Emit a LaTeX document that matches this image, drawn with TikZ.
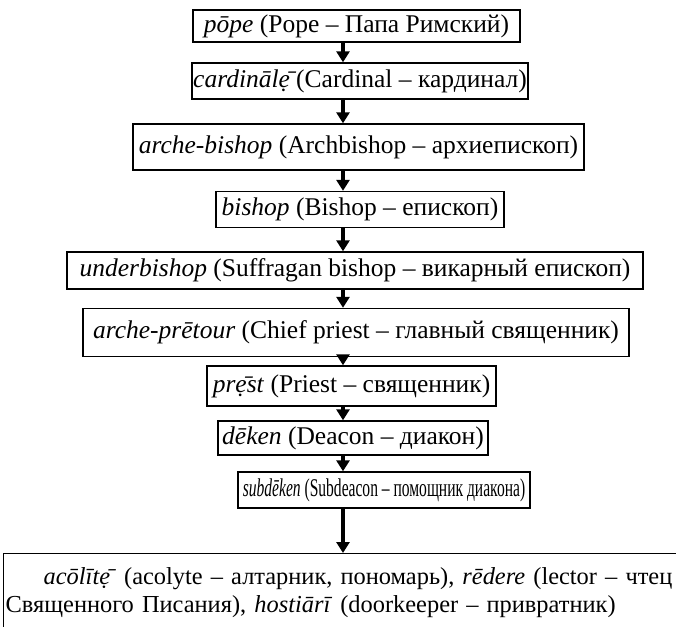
\documentclass[tikz,border=0pt]{standalone}
\usepackage{fontspec}
\setmainfont{Liberation Serif}
\usetikzlibrary{arrows.meta}
\begin{document}
\begin{tikzpicture}[x=1pt,y=-1pt,
  rank/.style={draw=black,line width=1.4pt,inner sep=0pt,font=\fontsize{25.5}{28}\selectfont},
  arr/.style={line width=3.4pt,-{Triangle[length=11pt,width=13pt]}}]
\useasboundingbox (0,0) rectangle (676,626);
\coordinate (ax) at (343,0);
\node[rank,minimum width=327pt,minimum height=32pt] (n1) at (356.5,26) {\textit{pōpe} (Pope – Папа Римский)};
\node[rank,minimum width=336pt,minimum height=36pt] (n2) at (360,81) {\textit{cardinālẹ̄}(Cardinal – кардинал)};
\node[rank,minimum width=451pt,minimum height=46pt] (n3) at (358.5,147) {\textit{arche-bishop} (Archbishop – архиепископ)};
\node[rank,minimum width=288pt,minimum height=36pt] (n4) at (360,209.5) {\textit{bishop} (Bishop – епископ)};
\node[rank,minimum width=576pt,minimum height=37pt] (n5) at (355,270.5) {\textit{underbishop} (Suffragan bishop – викарный епископ)};
\node[rank,minimum width=546pt,minimum height=48pt] (n6) at (356,332.5) {\textit{arche-prētour} (Chief priest – главный священник)};
\node[rank,minimum width=289pt,minimum height=40pt] (n7) at (351.5,386) {\textit{prẹ̄st} (Priest – священник)};
\node[rank,minimum width=270pt,minimum height=34pt] (n8) at (353,438) {\textit{dēken} (Deacon – диакон)};
\node[rank,minimum width=292pt,minimum height=36pt] (n9) at (384,490) {\scalebox{0.61}[1]{\textit{subdēken} (Subdeacon – помощник диакона)}};
\begin{scope}
\clip (0,0) rectangle (676,626);
\node[rank,anchor=north west,text width=700pt,align=left,font=\fontsize{24.4}{27.5}\selectfont] (n10) at (3,553)
  {\rule{0pt}{31pt}\hspace{40pt}\textit{acōlītẹ̄} (acolyte – алтарник, пономарь), \textit{rēdere} (lector – чтец\\
   \hspace{2pt}Священного Писания), \textit{hostiārī} (doorkeeper – привратник)\\
   \rule{0pt}{30pt}};
\end{scope}
\draw[arr] (n1.south -| ax) -- (n2.north -| ax);
\draw[arr] (n2.south -| ax) -- (n3.north -| ax);
\draw[arr] (n3.south -| ax) -- (n4.north -| ax);
\draw[arr] (n4.south -| ax) -- (n5.north -| ax);
\draw[arr] (n5.south -| ax) -- (n6.north -| ax);
\draw[arr] (n6.south -| ax) -- (n7.north -| ax);
\draw[arr] (n7.south -| ax) -- (n8.north -| ax);
\draw[arr] (n8.south -| ax) -- (n9.north -| ax);
\draw[arr] (n9.south -| ax) -- (n10.north -| ax);
\end{tikzpicture}
\end{document}
